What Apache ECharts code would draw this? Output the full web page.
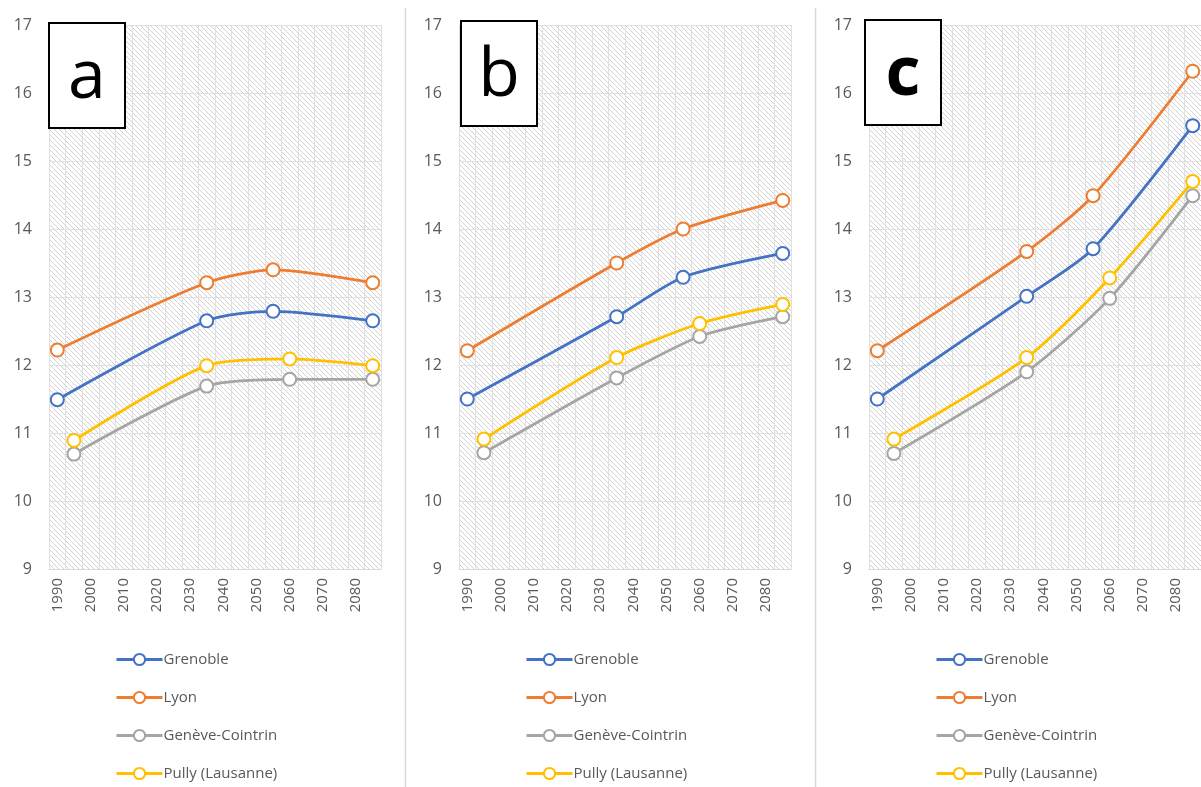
<!DOCTYPE html>
<html>
<head>
<meta charset="utf-8">
<script src="https://cdn.jsdelivr.net/npm/echarts@6/dist/echarts.min.js"></script>
<style>
  html, body { margin: 0; padding: 0; background: #fff; }
  #chart { width: 1201px; height: 787px; }
</style>
</head>
<body>
<div id="chart"></div>
<script>
// categories of the x axis (5 year steps, labels shown every 10 years)
var years = ['1990', '1995', '2000', '2005', '2010', '2015', '2020', '2025', '2030', '2035',
             '2040', '2045', '2050', '2055', '2060', '2065', '2070', '2075', '2080', '2085'];
var panels = ['a', 'b', 'c'];
var stations = ['Grenoble', 'Lyon', 'Genève-Cointrin', 'Pully (Lausanne)'];
var colors = ['#4472C4', '#ED7D31', '#A5A5A5', '#FFC000'];

// years where each station has a point
var frenchYears = ['1990', '2035', '2055', '2085'];
var swissYears = ['1995', '2035', '2060', '2085'];

// panel a
var grenobleA = [11.49, 12.65, 12.79, 12.65];
var lyonA = [12.22, 13.21, 13.40, 13.21];
var geneveA = [10.69, 11.69, 11.79, 11.79];
var pullyA = [10.89, 11.99, 12.09, 11.99];
// panel b
var grenobleB = [11.50, 12.71, 13.29, 13.64];
var lyonB = [12.21, 13.50, 14.00, 14.42];
var geneveB = [10.71, 11.81, 12.42, 12.71];
var pullyB = [10.91, 12.11, 12.61, 12.89];
// panel c
var grenobleC = [11.50, 13.01, 13.71, 15.52];
var lyonC = [12.21, 13.67, 14.49, 16.32];
var geneveC = [10.70, 11.90, 12.98, 14.49];
var pullyC = [10.91, 12.11, 13.28, 14.70];

var panelData = [
  [grenobleA, lyonA, geneveA, pullyA],
  [grenobleB, lyonB, geneveB, pullyB],
  [grenobleC, lyonC, geneveC, pullyC]
];
var stationYears = [frenchYears, frenchYears, swissYears, swissYears];

// hatch pattern for the plot background
var tile = document.createElement('canvas');
tile.width = 5; tile.height = 5;
var ctx = tile.getContext('2d');
ctx.fillStyle = '#ffffff';
ctx.fillRect(0, 0, 5, 5);
ctx.strokeStyle = '#d2d2d2';
ctx.lineWidth = 1;
ctx.beginPath();
ctx.moveTo(-1, -1); ctx.lineTo(6, 6);
ctx.moveTo(-1, 4); ctx.lineTo(1, 6);
ctx.moveTo(4, -1); ctx.lineTo(6, 1);
ctx.stroke();

var font = 'Open Sans';
var gridLeft = [49, 459, 869];
var boxes = [[49, 23], [461, 21], [865, 20]];

var grids = [], xAxes = [], yAxes = [], series = [], legends = [], graphics = [];

panels.forEach(function (p, i) {
  grids.push({
    left: gridLeft[i], top: 25, width: 332, height: 544,
    show: true, borderWidth: 0,
    backgroundColor: { image: tile, repeat: 'repeat' }
  });
  xAxes.push({
    type: 'category', gridIndex: i, data: years, boundaryGap: true,
    axisLine: { lineStyle: { color: '#d9d9d9' } },
    axisTick: { show: false },
    axisLabel: { interval: 1, rotate: 90, margin: 9, color: '#595959', fontSize: 15, fontFamily: font },
    splitLine: { show: true, interval: 0, lineStyle: { color: '#e0e0e0', width: 1 } }
  });
  yAxes.push({
    type: 'value', gridIndex: i, min: 9, max: 17, interval: 1,
    axisLine: { show: false }, axisTick: { show: false },
    axisLabel: { margin: 17, color: '#595959', fontSize: 16, fontFamily: font },
    splitLine: { lineStyle: { color: '#e0e0e0', width: 1 } }
  });
  stations.forEach(function (s, k) {
    series.push({
      name: s, type: 'line', xAxisIndex: i, yAxisIndex: i,
      smooth: 0.25,
      showSymbol: true, showAllSymbol: true,
      symbol: 'emptyCircle', symbolSize: 13,
      color: colors[k],
      lineStyle: { width: 2.8, color: colors[k] },
      itemStyle: { color: colors[k], borderWidth: 2.6, borderColor: colors[k] },
      data: stationYears[k].map(function (y, j) { return [y, panelData[i][k][j]]; })
    });
  });
  legends.push({
    orient: 'vertical', left: gridLeft[i] + 61, top: 647, height: 150, width: 250,
    data: stations, itemWidth: 46, itemHeight: 14, itemGap: 23,
    selectedMode: false,
    itemStyle: { borderWidth: 2.4 },
    lineStyle: { width: 3 },
    textStyle: { color: '#595959', fontSize: 15, fontFamily: font, padding: [0, 0, 0, -4] }
  });
  graphics.push({
    type: 'rect', shape: { x: boxes[i][0], y: boxes[i][1], width: 76, height: 105 },
    style: { fill: '#fff', stroke: '#000', lineWidth: 2 }, z: 100
  });
  graphics.push({
    type: 'text', x: boxes[i][0] + 38, y: boxes[i][1] + 56, z: 101,
    style: { text: p, fill: '#000', font: (p === 'c' ? 'bold ' : '') + '68px "Open Sans"',
             align: 'center', verticalAlign: 'middle' }
  });
});

// thin separators between the panels
[405.5, 815.5].forEach(function (x) {
  graphics.push({
    type: 'line', shape: { x1: x, y1: 8, x2: x, y2: 787 },
    style: { stroke: '#d9d9d9', lineWidth: 1.5 }, z: 100
  });
});

var chart = echarts.init(document.getElementById('chart'));
chart.setOption({
  animation: false,
  backgroundColor: '#fff',
  grid: grids,
  xAxis: xAxes,
  yAxis: yAxes,
  legend: legends,
  series: series,
  graphic: graphics
});
</script>
</body>
</html>
